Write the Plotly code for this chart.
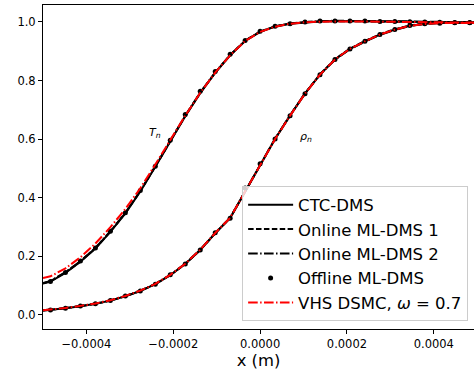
import plotly.graph_objects as go

# Cell-centre grid (29 cells over the domain) plus the two boundary nodes
x_nodes = [-0.0005, -0.0004828, -0.0004483, -0.0004138, -0.0003793, -0.0003448,
           -0.0003103, -0.0002759, -0.0002414, -0.0002069, -0.0001724, -0.0001379,
           -0.0001034, -0.0000690, -0.0000345, 0.0, 0.0000345, 0.0000690,
           0.0001034, 0.0001379, 0.0001724, 0.0002069, 0.0002414, 0.0002759,
           0.0003103, 0.0003448, 0.0003793, 0.0004138, 0.0004483, 0.0004828, 0.0005]
x_cells = x_nodes[1:-1]

# Normalised temperature profiles
T_ctc = [0.106, 0.113, 0.143, 0.181, 0.226, 0.283, 0.346, 0.421, 0.505, 0.592,
         0.678, 0.757, 0.826, 0.886, 0.935, 0.966, 0.984, 0.994, 0.999, 1.002,
         1.003, 1.003, 1.003, 1.002, 1.002, 1.001, 1.000, 0.999, 0.998, 0.997, 0.997]
T_online1 = [0.107, 0.114, 0.144, 0.182, 0.227, 0.284, 0.347, 0.422, 0.506, 0.593,
             0.679, 0.758, 0.827, 0.887, 0.936, 0.967, 0.985, 0.995, 1.000, 1.002,
             1.003, 1.003, 1.002, 1.002, 1.001, 1.000, 0.999, 0.998, 0.997, 0.996, 0.996]
T_online2 = [0.108, 0.115, 0.145, 0.183, 0.228, 0.285, 0.348, 0.423, 0.507, 0.594,
             0.680, 0.759, 0.828, 0.887, 0.936, 0.967, 0.985, 0.995, 1.000, 1.003,
             1.004, 1.004, 1.004, 1.003, 1.003, 1.002, 1.001, 1.000, 0.999, 0.999, 0.999]
T_offline = [0.113, 0.144, 0.183, 0.228, 0.285, 0.348, 0.424, 0.507, 0.596,
             0.684, 0.763, 0.831, 0.890, 0.937, 0.968, 0.985, 0.994, 1.000, 1.003,
             1.003, 1.003, 1.003, 1.002, 1.002, 1.001, 1.000, 0.999, 0.998, 0.997]
T_dsmc = [0.125, 0.131, 0.158, 0.196, 0.243, 0.299, 0.361, 0.432, 0.513, 0.596,
          0.680, 0.758, 0.827, 0.886, 0.935, 0.966, 0.984, 0.994, 0.999, 1.001,
          1.002, 1.002, 1.002, 1.001, 1.001, 1.000, 0.999, 0.999, 0.998, 0.998, 0.998]

# Normalised density profiles
rho_ctc = [0.014, 0.016, 0.022, 0.029, 0.037, 0.048, 0.063, 0.081, 0.104, 0.135,
           0.173, 0.221, 0.278, 0.330, 0.420, 0.510, 0.600, 0.680, 0.755, 0.820,
           0.872, 0.908, 0.934, 0.957, 0.974, 0.987, 0.994, 0.997, 0.998, 0.998, 0.998]
rho_online1 = [0.014, 0.016, 0.022, 0.029, 0.037, 0.048, 0.063, 0.081, 0.104, 0.135,
               0.173, 0.221, 0.278, 0.331, 0.421, 0.511, 0.601, 0.681, 0.756, 0.821,
               0.873, 0.909, 0.935, 0.958, 0.975, 0.988, 0.995, 0.998, 0.999, 0.999, 0.999]
rho_online2 = [0.015, 0.017, 0.023, 0.030, 0.038, 0.049, 0.064, 0.082, 0.105, 0.136,
               0.174, 0.222, 0.279, 0.331, 0.421, 0.511, 0.601, 0.681, 0.756, 0.820,
               0.871, 0.907, 0.933, 0.956, 0.973, 0.986, 0.993, 0.996, 0.997, 0.997, 0.997]
rho_offline = [0.016, 0.022, 0.030, 0.037, 0.048, 0.064, 0.081, 0.104, 0.136,
               0.173, 0.221, 0.280, 0.329, 0.433, 0.516, 0.600, 0.680, 0.755, 0.820,
               0.872, 0.908, 0.934, 0.957, 0.974, 0.988, 0.994, 0.996, 0.997, 0.998]
rho_dsmc = [0.015, 0.017, 0.023, 0.030, 0.038, 0.049, 0.064, 0.082, 0.105, 0.136,
            0.174, 0.222, 0.279, 0.331, 0.421, 0.511, 0.600, 0.680, 0.755, 0.820,
            0.872, 0.908, 0.934, 0.957, 0.974, 0.987, 0.993, 0.996, 0.997, 0.997, 0.997]

x_ticks = [-0.0004, -0.0002, 0.0, 0.0002, 0.0004]
x_ticktext = ["\u22120.0004", "\u22120.0002", "0.0000", "0.0002", "0.0004"]
y_ticks = [0.0, 0.2, 0.4, 0.6, 0.8, 1.0]

FONT = "DejaVu Sans"
LW = 2

fig = go.Figure()

line_series = [
    ("CTC-DMS", T_ctc, rho_ctc, dict(color="black", width=LW, dash="solid")),
    ("Online ML-DMS 1", T_online1, rho_online1, dict(color="black", width=LW, dash="5.5px,2.4px")),
    ("Online ML-DMS 2", T_online2, rho_online2, dict(color="black", width=LW, dash="9.6px,2.4px,1.5px,2.4px")),
]
for name, t_vals, r_vals, style in line_series:
    fig.add_trace(go.Scatter(x=x_nodes, y=t_vals, mode="lines", name=name,
                             legendgroup=name, line=style))
    fig.add_trace(go.Scatter(x=x_nodes, y=r_vals, mode="lines", name=name,
                             legendgroup=name, showlegend=False, line=style))

fig.add_trace(go.Scatter(x=x_cells, y=T_offline, mode="markers", name="Offline ML-DMS",
                         legendgroup="offline", marker=dict(color="black", size=5)))
fig.add_trace(go.Scatter(x=x_cells, y=rho_offline, mode="markers", name="Offline ML-DMS",
                         legendgroup="offline", showlegend=False,
                         marker=dict(color="black", size=5)))

red_style = dict(color="red", width=LW, dash="9.6px,2.4px,1.5px,2.4px")
fig.add_trace(go.Scatter(x=x_nodes, y=T_dsmc, mode="lines", name="VHS DSMC, <i>ω</i> = 0.7",
                         legendgroup="dsmc", line=red_style))
fig.add_trace(go.Scatter(x=x_nodes, y=rho_dsmc, mode="lines", name="VHS DSMC, <i>ω</i> = 0.7",
                         legendgroup="dsmc", showlegend=False, line=red_style))

fig.add_annotation(x=-0.0002415, y=0.622, text="<i>T</i><sub><i>n</i></sub>",
                   showarrow=False, font=dict(family=FONT, size=11, color="black"))
fig.add_annotation(x=0.000106, y=0.608, text="<i>ρ</i><sub><i>n</i></sub>",
                   showarrow=False, font=dict(family=FONT, size=11, color="black"))

fig.update_layout(
    width=474, height=377,
    margin=dict(l=43, r=0, t=5, b=48),
    plot_bgcolor="white", paper_bgcolor="white",
    font=dict(family=FONT, size=11.5, color="black"),
    showlegend=True,
    legend=dict(x=0.462, y=0.44, xanchor="left", yanchor="top",
                bgcolor="rgba(255,255,255,0.8)", bordercolor="#cccccc", borderwidth=1,
                font=dict(family=FONT, size=16.5, color="black"),
                itemwidth=45, tracegroupgap=0),
    xaxis=dict(range=[-0.0005, 0.0004926], tickvals=x_ticks, ticktext=x_ticktext,
               showgrid=False, zeroline=False, showline=True, linecolor="black",
               linewidth=1, mirror=True, ticks="outside", ticklen=4, tickcolor="black",
               title=dict(text="x (m)", font=dict(family=FONT, size=16.4), standoff=0)),
    yaxis=dict(range=[-0.049, 1.058], tickvals=y_ticks, tickformat=".1f",
               showgrid=False, zeroline=False, showline=True, linecolor="black",
               linewidth=1, ticks="outside", ticklen=4, tickcolor="black"),
)

fig.write_html("out.html")
